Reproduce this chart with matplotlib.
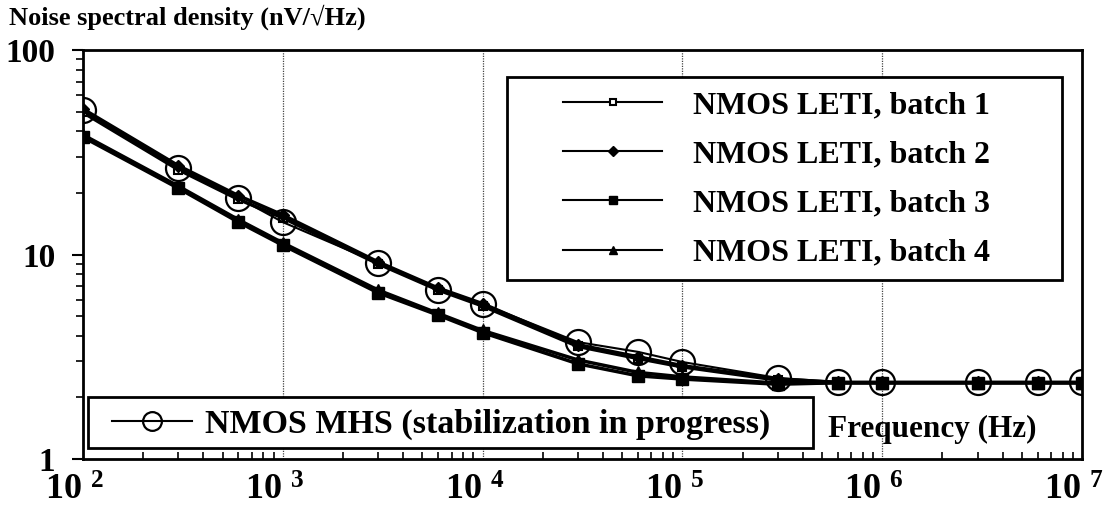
import numpy as np
import matplotlib
matplotlib.use('Agg')
import matplotlib.pyplot as plt
import matplotlib.transforms as mtransforms
from matplotlib.patches import Rectangle
from matplotlib.ticker import FuncFormatter, LogLocator, NullFormatter

plt.rcParams['font.family'] = ['Liberation Serif', 'DejaVu Serif']
plt.rcParams['font.weight'] = 'bold'
plt.rcParams['mathtext.fontset'] = 'custom'
plt.rcParams['mathtext.rm'] = 'Liberation Serif:bold'
plt.rcParams['mathtext.it'] = 'Liberation Serif:bold'
plt.rcParams['mathtext.bf'] = 'Liberation Serif:bold'

# frequences (Hz)
freq = [1e2, 3e2, 6e2, 1e3, 3e3, 6e3, 1e4, 3e4, 6e4, 1e5, 3e5, 6e5, 1e6, 3e6, 6e6, 1e7]

# densite spectrale de bruit (nV/sqrt(Hz))
batch1 = [49.5, 26.0, 18.6, 15.1, 9.0, 6.7, 5.6, 3.55, 3.10, 2.82, 2.43, 2.36, 2.36, 2.36, 2.36, 2.36]
batch2 = [51.5, 27.2, 19.4, 15.6, 9.2, 6.85, 5.75, 3.62, 3.16, 2.86, 2.46, 2.37, 2.37, 2.37, 2.37, 2.37]
batch3 = [37.5, 21.1, 14.4, 11.1, 6.5, 5.05, 4.15, 2.92, 2.55, 2.46, 2.32, 2.36, 2.36, 2.36, 2.36, 2.36]
batch4 = [38.5, 21.6, 14.8, 11.4, 6.7, 5.15, 4.25, 3.05, 2.65, 2.52, 2.35, 2.36, 2.36, 2.36, 2.36, 2.36]
mhs = [51.0, 26.5, 18.9, 14.4, 9.1, 6.7, 5.73, 3.73, 3.34, 2.98, 2.49, 2.38, 2.38, 2.38, 2.38, 2.38]

labels = ['NMOS LETI, batch 1', 'NMOS LETI, batch 2', 'NMOS LETI, batch 3', 'NMOS LETI, batch 4']

fig = plt.figure(figsize=(11.12, 5.08), dpi=100)
ax = fig.add_axes([0.0746, 0.0965, 0.8985, 0.805])

h1, = ax.plot(freq, batch1, color='black', lw=2.5, marker='s', ms=6, mfc='white', mec='black', mew=1.5)
h2, = ax.plot(freq, batch2, color='black', lw=2.5, marker='D', ms=6, mfc='black', mec='black')
h3, = ax.plot(freq, batch3, color='black', lw=2.5, marker='s', ms=8, mfc='black', mec='black')
h4, = ax.plot(freq, batch4, color='black', lw=2.5, marker='^', ms=8, mfc='black', mec='black')
h5, = ax.plot(freq, mhs, color='black', lw=1.5, marker='o', ms=18, mfc='none', mec='black', mew=1.6)

ax.set_xscale('log')
ax.set_yscale('log')
ax.set_xlim(1e2, 1e7)
ax.set_ylim(1, 100)

# grille verticale seulement
for xg in [1e3, 1e4, 1e5, 1e6]:
    ax.axvline(xg, color='#444444', lw=0.9, ls=(0, (1, 1)), zorder=0)

for s in ax.spines.values():
    s.set_linewidth(2)

ax.xaxis.set_major_locator(LogLocator(base=10, numticks=10))
ax.xaxis.set_minor_locator(LogLocator(base=10, subs=np.arange(2, 10), numticks=100))
ax.xaxis.set_major_formatter(FuncFormatter(lambda x, pos: r'$10^{\;\,%d}$' % round(np.log10(x))))
ax.xaxis.set_minor_formatter(NullFormatter())
ax.yaxis.set_major_formatter(FuncFormatter(lambda y, pos: '%d' % round(y)))
ax.yaxis.set_minor_formatter(NullFormatter())

ax.tick_params(axis='x', which='major', direction='in', length=0, pad=11, labelsize=26)
ax.tick_params(axis='x', which='minor', direction='in', length=5, width=1.2)
ax.tick_params(axis='y', which='major', direction='out', length=8, width=1.5, pad=12, labelsize=24)
ax.tick_params(axis='y', which='minor', direction='out', length=5, width=1.2)

# decaler un peu les etiquettes x vers la gauche
shift = mtransforms.ScaledTranslation(-8 / 100, 0, fig.dpi_scale_trans)
for lab in ax.xaxis.get_majorticklabels():
    lab.set_transform(lab.get_transform() + shift)

fig.text(0.008, 0.966, 'Noise spectral density (nV/\u221aHz)', fontsize=19, fontweight='bold',
         va='center', ha='left')
ax.text(0.746, 0.071, 'Frequency (Hz)', transform=ax.transAxes, fontsize=22.5,
        fontweight='bold', va='center', ha='left')

# cadres des legendes
ax.add_patch(Rectangle((0.4244, 0.4377), 0.5556, 0.4963, transform=ax.transAxes,
                       facecolor='white', edgecolor='black', lw=2, zorder=4, clip_on=False))
ax.add_patch(Rectangle((0.005, 0.0269), 0.7257, 0.1247, transform=ax.transAxes,
                       facecolor='white', edgecolor='black', lw=2, zorder=4, clip_on=False))

leg1 = ax.legend([h1, h2, h3, h4], labels, loc='center left', bbox_to_anchor=(0.4805, 0.684),
                 fontsize=23, handlelength=3.1, handletextpad=0.97, labelspacing=0.62,
                 borderpad=0, borderaxespad=0, frameon=False, markerscale=0.8)
for line in leg1.get_lines():
    line.set_linewidth(1.5)
leg1.set_zorder(5)
ax.add_artist(leg1)

leg2 = ax.legend([h5], ['NMOS MHS (stabilization in progress)'], loc='center left',
                 bbox_to_anchor=(0.029, 0.085), fontsize=24.5, handlelength=2.35,
                 handletextpad=0.38, borderpad=0, borderaxespad=0, frameon=False,
                 markerscale=0.75)
leg2.set_zorder(5)

fig.savefig('out.png', dpi=100)
